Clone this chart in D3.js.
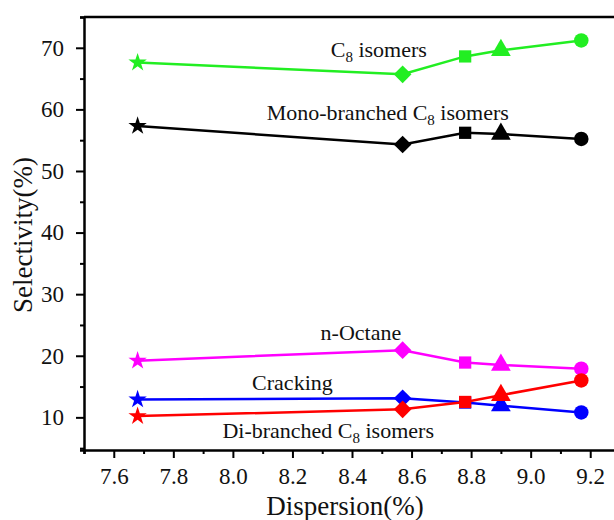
<!DOCTYPE html>
<meta charset="utf-8">
<style>
  body { margin: 0; background: #fff; }
  text { font-family: "Liberation Serif", "Times New Roman", serif; }
</style>
<svg width="614" height="520"></svg>
<script src="https://d3js.org/d3.v7.min.js"></script>
<script>

// dispersion values (x) and selectivity per product (y)
var dispersion = [7.68, 8.57, 8.78, 8.90, 9.17];
var c8Isomers   = [67.6, 65.7, 68.6, 69.6, 71.2];
var monoBranched = [57.3, 54.3, 56.2, 56.0, 55.2];
var nOctane     = [19.2, 20.9, 18.9, 18.5, 17.9];
var cracking    = [12.9, 13.1, 12.4, 11.9, 10.8];
var diBranched  = [10.2, 11.3, 12.5, 13.6, 16.0];
var markers = ["star", "diamond", "square", "triangle", "circle"];

var xTicks = [7.6, 7.8, 8.0, 8.2, 8.4, 8.6, 8.8, 9.0, 9.2];
var yTicks = [10, 20, 30, 40, 50, 60, 70];

var series = [
  {name: "C8", values: c8Isomers, color: "#22ee22", label: ["C", "8", " isomers"], lx: 8.49, ly: 68.5},
  {name: "mono", values: monoBranched, color: "#000000", label: ["Mono-branched C", "8", " isomers"], lx: 8.52, ly: 58.3},
  {name: "nC8", values: nOctane, color: "#ff00ff", label: ["n-Octane"], lx: 8.43, ly: 22.5},
  {name: "crack", values: cracking, color: "#0000ff", label: ["Cracking"], lx: 8.2, ly: 14.4},
  {name: "di", values: diBranched, color: "#ff0000", label: ["Di-branched C", "8", " isomers"], lx: 8.32, ly: 6.6}
];

var svg = d3.select("svg");
var mLeft = 84, mTop = 17, mBottom = 450, mRight = 620;

var x = d3.scaleLinear().domain([7.5, 9.3]).range([mLeft, mRight]);
var y = d3.scaleLinear().domain([4.7, 75]).range([mBottom, mTop]);

var symbols = {
  star: d3.symbol().type(d3.symbolStar).size(105),
  diamond: d3.symbol().type(d3.symbolDiamond2).size(200),
  square: d3.symbol().type(d3.symbolSquare).size(150),
  triangle: d3.symbol().type(d3.symbolTriangle).size(170),
  circle: d3.symbol().type(d3.symbolCircle).size(165)
};

// axes: minor ticks first, then major ticks with labels
var xAxis = svg.append("g").attr("transform", "translate(0," + mBottom + ")");
xAxis.call(d3.axisBottom(x).tickValues(d3.range(7.5, 9.31, 0.1)).tickSize(4).tickFormat(""));
xAxis.call(function(g) {
  g.selectAll(".tick").filter(function(d) { return xTicks.some(function(t) { return Math.abs(t - d) < 1e-6; }); })
    .select("line").attr("y2", 8);
});
var xMajor = svg.append("g").attr("transform", "translate(0," + mBottom + ")")
  .call(d3.axisBottom(x).tickValues(xTicks).tickSize(0).tickPadding(18).tickFormat(d3.format(".1f")));
xMajor.select(".domain").remove();

var yAxis = svg.append("g").attr("transform", "translate(" + mLeft + ",0)");
yAxis.call(d3.axisLeft(y).tickValues(d3.range(5, 75.1, 5)).tickSize(4).tickFormat(""));
yAxis.call(function(g) {
  g.selectAll(".tick").filter(function(d) { return d % 10 === 0; }).select("line").attr("x2", -8);
});
var yMajor = svg.append("g").attr("transform", "translate(" + mLeft + ",0)")
  .call(d3.axisLeft(y).tickValues(yTicks).tickSize(0).tickPadding(20));
yMajor.select(".domain").remove();

svg.selectAll(".domain").attr("stroke", "#000").attr("stroke-width", 2.5);
svg.selectAll(".tick line").attr("stroke", "#000").attr("stroke-width", 2);
svg.selectAll("g").attr("font-size", null).attr("font-family", null);
svg.selectAll(".tick text").attr("font-size", 23).attr("fill", "#111");

// top frame line
svg.append("line").attr("x1", mLeft).attr("x2", 614).attr("y1", mTop).attr("y2", mTop)
  .attr("stroke", "#000").attr("stroke-width", 2.5);

// axis titles
svg.append("text").attr("x", 345).attr("y", 515).attr("text-anchor", "middle")
  .attr("font-size", 27).attr("fill", "#111").text("Dispersion(%)");
svg.append("text").attr("transform", "translate(32,235) rotate(-90)").attr("text-anchor", "middle")
  .attr("font-size", 27).attr("fill", "#111").text("Selectivity(%)");

// lines and markers
var line = d3.line().x(function(d, i) { return x(dispersion[i]); }).y(function(d) { return y(d); });

series.forEach(function(s) {
  svg.append("path").datum(s.values).attr("d", line)
    .attr("fill", "none").attr("stroke", s.color).attr("stroke-width", 2.5);
  svg.selectAll(null).data(s.values).enter().append("path")
    .attr("d", function(d, i) { return symbols[markers[i]](); })
    .attr("transform", function(d, i) { return "translate(" + x(dispersion[i]) + "," + y(d) + ")"; })
    .attr("fill", s.color);
});

// series labels
series.forEach(function(s) {
  var t = svg.append("text").attr("x", x(s.lx)).attr("y", y(s.ly)).attr("text-anchor", "middle")
    .attr("font-size", 22).attr("fill", "#111");
  s.label.forEach(function(part, i) {
    var ts = t.append("tspan").text(part);
    if (i === 1) ts.attr("font-size", 15).attr("dy", 5);
    if (i === 2) ts.attr("dy", -5);
  });
});

</script>
